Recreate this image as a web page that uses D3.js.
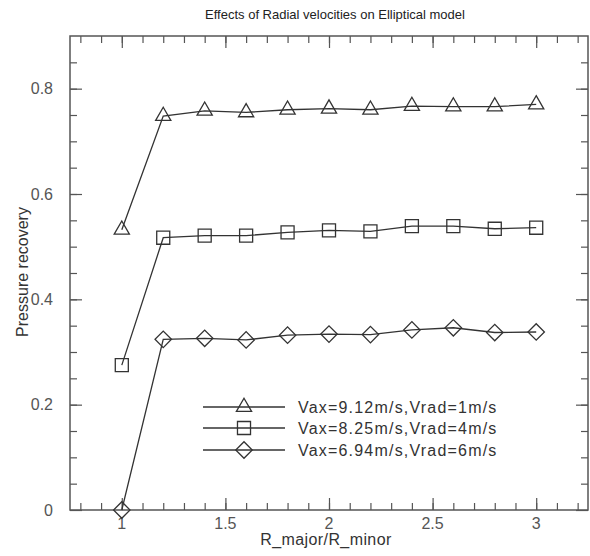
<!DOCTYPE html>
<html>
<head>
<meta charset="utf-8">
<script src="https://cdn.jsdelivr.net/npm/d3@7"></script>
<style>
  body { margin: 0; background: #fff; }
  text { font-family: "Liberation Sans Narrow", "Liberation Sans", Arial, sans-serif; }
</style>
</head>
<body>
<svg id="chart" width="590" height="556"></svg>
<script>
// --- data ---
const ratios = [1, 1.2, 1.4, 1.6, 1.8, 2, 2.2, 2.4, 2.6, 2.8, 3];
const vrad1 = [0.532, 0.748, 0.758, 0.755, 0.760, 0.762, 0.760, 0.767, 0.766, 0.766, 0.770];
const vrad4 = [0.275, 0.517, 0.521, 0.521, 0.527, 0.531, 0.529, 0.539, 0.539, 0.534, 0.536];
const vrad6 = [0.000, 0.324, 0.326, 0.323, 0.332, 0.334, 0.333, 0.342, 0.346, 0.337, 0.338];
const seriesNames = ["Vax=9.12m/s,Vrad=1m/s", "Vax=8.25m/s,Vrad=4m/s", "Vax=6.94m/s,Vrad=6m/s"];
const xTicks = [1, 1.5, 2, 2.5, 3];
const yTicks = [0, 0.2, 0.4, 0.6, 0.8];

const svg = d3.select("#chart");
const box = { left: 70, right: 588, top: 36, bottom: 510 };

const x = d3.scaleLinear().domain([0.75, 3.25]).range([box.left, box.right]);
const y = d3.scaleLinear().domain([0, 0.9]).range([box.bottom, box.top]);

const axisColor = "#555";
const inkColor = "#333";

// minor ticks
const xMinor = d3.range(0.8, 3.25, 0.1).map(v => +v.toFixed(2));
const yMinor = d3.range(0.05, 0.9, 0.05).map(v => +v.toFixed(2));

function drawAxis(axisFn, scale, values, size, pos) {
    const g = svg.append("g")
        .attr("transform", pos)
        .call(axisFn(scale).tickValues(values).tickSize(-size).tickFormat(""));
    g.select(".domain").remove();
    g.selectAll("line").attr("stroke", axisColor).attr("stroke-width", 1.2);
}

// bottom / top
drawAxis(d3.axisBottom, x, xMinor, 7, `translate(0,${box.bottom})`);
drawAxis(d3.axisBottom, x, xTicks, 12, `translate(0,${box.bottom})`);
drawAxis(d3.axisTop, x, xMinor, 7, `translate(0,${box.top})`);
drawAxis(d3.axisTop, x, xTicks, 12, `translate(0,${box.top})`);
// left / right
drawAxis(d3.axisLeft, y, yMinor, 7, `translate(${box.left},0)`);
drawAxis(d3.axisLeft, y, yTicks, 12, `translate(${box.left},0)`);
drawAxis(d3.axisRight, y, yMinor, 7, `translate(${box.right},0)`);
drawAxis(d3.axisRight, y, yTicks, 12, `translate(${box.right},0)`);

// frame
svg.append("rect")
    .attr("x", box.left).attr("y", box.top)
    .attr("width", box.right - box.left).attr("height", box.bottom - box.top)
    .attr("fill", "none").attr("stroke", axisColor).attr("stroke-width", 1.5);

// tick labels
svg.selectAll(".xlab").data(xTicks).enter().append("text")
    .attr("x", d => x(d)).attr("y", box.bottom + 19)
    .attr("text-anchor", "middle").attr("font-size", 16).attr("fill", "#555")
    .text(d => d3.format("")(d));

svg.selectAll(".ylab").data(yTicks).enter().append("text")
    .attr("x", 53).attr("y", d => y(d)).attr("dy", "0.36em")
    .attr("text-anchor", "end").attr("font-size", 16).attr("fill", "#555")
    .text(d => d3.format("")(d));

// titles
svg.append("text").attr("x", 335).attr("y", 19)
    .attr("text-anchor", "middle").attr("font-size", 13).attr("fill", "#222")
    .text("Effects of Radial velocities on Elliptical model");

svg.append("text").attr("x", (box.left + box.right) / 2 - 3).attr("y", 545)
    .attr("text-anchor", "middle").attr("font-size", 16).attr("fill", "#333")
    .attr("letter-spacing", 0.4)
    .text("R_major/R_minor");

svg.append("text")
    .attr("transform", `translate(28,272) rotate(-90)`)
    .attr("text-anchor", "middle").attr("font-size", 16).attr("fill", "#333")
    .text("Pressure recovery");

// series
const symbols = [
    { type: d3.symbolTriangle, size: 100, rotate: 0 },
    { type: d3.symbolSquare, size: 170, rotate: 0 },
    { type: d3.symbolSquare, size: 135, rotate: 45 }
];
const seriesData = [vrad1, vrad4, vrad6];

const line = d3.line().x((d, i) => x(ratios[i])).y(d => y(d));

seriesData.forEach((vals, k) => {
    svg.append("path").datum(vals)
        .attr("d", line)
        .attr("fill", "none").attr("stroke", inkColor).attr("stroke-width", 1.3);
    const sym = d3.symbol().type(symbols[k].type).size(symbols[k].size);
    svg.selectAll(".m" + k).data(vals).enter().append("path")
        .attr("d", sym)
        .attr("transform", (d, i) => `translate(${x(ratios[i])},${y(d)}) rotate(${symbols[k].rotate})`)
        .attr("fill", "none").attr("stroke", inkColor).attr("stroke-width", 1.3);
});

// legend
const legendY = [407, 428, 450];
seriesNames.forEach((name, k) => {
    const g = svg.append("g").attr("transform", `translate(0,${legendY[k]})`);
    g.append("line").attr("x1", 203).attr("x2", 285).attr("y1", 0).attr("y2", 0)
        .attr("stroke", inkColor).attr("stroke-width", 1.3);
    g.append("path")
        .attr("d", d3.symbol().type(symbols[k].type).size(symbols[k].size))
        .attr("transform", `translate(244,0) rotate(${symbols[k].rotate})`)
        .attr("fill", "none").attr("stroke", inkColor).attr("stroke-width", 1.3);
    g.append("text").attr("x", 298).attr("y", 0).attr("dy", "0.36em")
        .attr("font-size", 16).attr("fill", "#333").attr("letter-spacing", 1.2)
        .text(name);
});
</script>
</body>
</html>
